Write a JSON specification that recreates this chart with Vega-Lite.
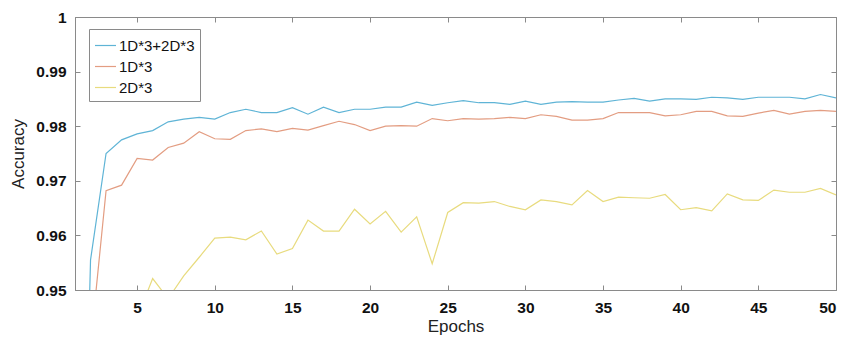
{
  "$schema": "https://vega.github.io/schema/vega-lite/v6.json",
  "width": 761,
  "height": 273,
  "autosize": "none",
  "padding": {"left": 75, "top": 17, "right": 21, "bottom": 49},
  "background": "white",
  "config": {
    "font": "Liberation Sans",
    "view": {"stroke": "#8a8a8a", "strokeWidth": 1},
    "axis": {
      "domainColor": "#8a8a8a",
      "tickColor": "#8a8a8a",
      "tickSize": -5,
      "grid": false,
      "labelColor": "#111",
      "labelFontSize": 15.5,
      "labelFontWeight": "bold",
      "titleFontSize": 17,
      "titleFontWeight": "normal",
      "titleColor": "#222"
    }
  },
  "data": {"values": [
    {"epoch":1,"series":"1D*3+2D*3","acc":0.845},{"epoch":2,"series":"1D*3+2D*3","acc":0.9555},{"epoch":3,"series":"1D*3+2D*3","acc":0.975},{"epoch":4,"series":"1D*3+2D*3","acc":0.9775},{"epoch":5,"series":"1D*3+2D*3","acc":0.9786},{"epoch":6,"series":"1D*3+2D*3","acc":0.9792},{"epoch":7,"series":"1D*3+2D*3","acc":0.9808},{"epoch":8,"series":"1D*3+2D*3","acc":0.9813},{"epoch":9,"series":"1D*3+2D*3","acc":0.9816},{"epoch":10,"series":"1D*3+2D*3","acc":0.9813},
    {"epoch":11,"series":"1D*3+2D*3","acc":0.9825},{"epoch":12,"series":"1D*3+2D*3","acc":0.9831},{"epoch":13,"series":"1D*3+2D*3","acc":0.9825},{"epoch":14,"series":"1D*3+2D*3","acc":0.9825},{"epoch":15,"series":"1D*3+2D*3","acc":0.9834},{"epoch":16,"series":"1D*3+2D*3","acc":0.9822},{"epoch":17,"series":"1D*3+2D*3","acc":0.9835},{"epoch":18,"series":"1D*3+2D*3","acc":0.9825},{"epoch":19,"series":"1D*3+2D*3","acc":0.9831},{"epoch":20,"series":"1D*3+2D*3","acc":0.9831},
    {"epoch":21,"series":"1D*3+2D*3","acc":0.9835},{"epoch":22,"series":"1D*3+2D*3","acc":0.9835},{"epoch":23,"series":"1D*3+2D*3","acc":0.9844},{"epoch":24,"series":"1D*3+2D*3","acc":0.9838},{"epoch":25,"series":"1D*3+2D*3","acc":0.9843},{"epoch":26,"series":"1D*3+2D*3","acc":0.9847},{"epoch":27,"series":"1D*3+2D*3","acc":0.9843},{"epoch":28,"series":"1D*3+2D*3","acc":0.9843},{"epoch":29,"series":"1D*3+2D*3","acc":0.984},{"epoch":30,"series":"1D*3+2D*3","acc":0.9846},
    {"epoch":31,"series":"1D*3+2D*3","acc":0.984},{"epoch":32,"series":"1D*3+2D*3","acc":0.9844},{"epoch":33,"series":"1D*3+2D*3","acc":0.9845},{"epoch":34,"series":"1D*3+2D*3","acc":0.9844},{"epoch":35,"series":"1D*3+2D*3","acc":0.9844},{"epoch":36,"series":"1D*3+2D*3","acc":0.9848},{"epoch":37,"series":"1D*3+2D*3","acc":0.9851},{"epoch":38,"series":"1D*3+2D*3","acc":0.9846},{"epoch":39,"series":"1D*3+2D*3","acc":0.985},{"epoch":40,"series":"1D*3+2D*3","acc":0.985},
    {"epoch":41,"series":"1D*3+2D*3","acc":0.9849},{"epoch":42,"series":"1D*3+2D*3","acc":0.9853},{"epoch":43,"series":"1D*3+2D*3","acc":0.9852},{"epoch":44,"series":"1D*3+2D*3","acc":0.9849},{"epoch":45,"series":"1D*3+2D*3","acc":0.9853},{"epoch":46,"series":"1D*3+2D*3","acc":0.9853},{"epoch":47,"series":"1D*3+2D*3","acc":0.9853},{"epoch":48,"series":"1D*3+2D*3","acc":0.985},{"epoch":49,"series":"1D*3+2D*3","acc":0.9858},{"epoch":50,"series":"1D*3+2D*3","acc":0.9852},

    {"epoch":1,"series":"1D*3","acc":0.85},{"epoch":2,"series":"1D*3","acc":0.9398},{"epoch":3,"series":"1D*3","acc":0.9682},{"epoch":4,"series":"1D*3","acc":0.9692},{"epoch":5,"series":"1D*3","acc":0.9741},{"epoch":6,"series":"1D*3","acc":0.9738},{"epoch":7,"series":"1D*3","acc":0.9761},{"epoch":8,"series":"1D*3","acc":0.9769},{"epoch":9,"series":"1D*3","acc":0.979},{"epoch":10,"series":"1D*3","acc":0.9777},
    {"epoch":11,"series":"1D*3","acc":0.9776},{"epoch":12,"series":"1D*3","acc":0.9792},{"epoch":13,"series":"1D*3","acc":0.9795},{"epoch":14,"series":"1D*3","acc":0.979},{"epoch":15,"series":"1D*3","acc":0.9796},{"epoch":16,"series":"1D*3","acc":0.9793},{"epoch":17,"series":"1D*3","acc":0.9801},{"epoch":18,"series":"1D*3","acc":0.9809},{"epoch":19,"series":"1D*3","acc":0.9803},{"epoch":20,"series":"1D*3","acc":0.9792},
    {"epoch":21,"series":"1D*3","acc":0.98},{"epoch":22,"series":"1D*3","acc":0.9801},{"epoch":23,"series":"1D*3","acc":0.98},{"epoch":24,"series":"1D*3","acc":0.9814},{"epoch":25,"series":"1D*3","acc":0.981},{"epoch":26,"series":"1D*3","acc":0.9814},{"epoch":27,"series":"1D*3","acc":0.9813},{"epoch":28,"series":"1D*3","acc":0.9814},{"epoch":29,"series":"1D*3","acc":0.9816},{"epoch":30,"series":"1D*3","acc":0.9814},
    {"epoch":31,"series":"1D*3","acc":0.9821},{"epoch":32,"series":"1D*3","acc":0.9818},{"epoch":33,"series":"1D*3","acc":0.9811},{"epoch":34,"series":"1D*3","acc":0.9811},{"epoch":35,"series":"1D*3","acc":0.9814},{"epoch":36,"series":"1D*3","acc":0.9825},{"epoch":37,"series":"1D*3","acc":0.9825},{"epoch":38,"series":"1D*3","acc":0.9825},{"epoch":39,"series":"1D*3","acc":0.9819},{"epoch":40,"series":"1D*3","acc":0.9821},
    {"epoch":41,"series":"1D*3","acc":0.9827},{"epoch":42,"series":"1D*3","acc":0.9827},{"epoch":43,"series":"1D*3","acc":0.9819},{"epoch":44,"series":"1D*3","acc":0.9818},{"epoch":45,"series":"1D*3","acc":0.9824},{"epoch":46,"series":"1D*3","acc":0.9829},{"epoch":47,"series":"1D*3","acc":0.9822},{"epoch":48,"series":"1D*3","acc":0.9827},{"epoch":49,"series":"1D*3","acc":0.9829},{"epoch":50,"series":"1D*3","acc":0.9827},

    {"epoch":1,"series":"2D*3","acc":0.86},{"epoch":2,"series":"2D*3","acc":0.89},{"epoch":3,"series":"2D*3","acc":0.92},{"epoch":4,"series":"2D*3","acc":0.935},{"epoch":5,"series":"2D*3","acc":0.9449},{"epoch":6,"series":"2D*3","acc":0.9521},{"epoch":7,"series":"2D*3","acc":0.9484},{"epoch":8,"series":"2D*3","acc":0.9526},{"epoch":9,"series":"2D*3","acc":0.956},{"epoch":10,"series":"2D*3","acc":0.9595},
    {"epoch":11,"series":"2D*3","acc":0.9597},{"epoch":12,"series":"2D*3","acc":0.9592},{"epoch":13,"series":"2D*3","acc":0.9608},{"epoch":14,"series":"2D*3","acc":0.9566},{"epoch":15,"series":"2D*3","acc":0.9576},{"epoch":16,"series":"2D*3","acc":0.9628},{"epoch":17,"series":"2D*3","acc":0.9608},{"epoch":18,"series":"2D*3","acc":0.9608},{"epoch":19,"series":"2D*3","acc":0.9648},{"epoch":20,"series":"2D*3","acc":0.9621},
    {"epoch":21,"series":"2D*3","acc":0.9644},{"epoch":22,"series":"2D*3","acc":0.9606},{"epoch":23,"series":"2D*3","acc":0.9634},{"epoch":24,"series":"2D*3","acc":0.9548},{"epoch":25,"series":"2D*3","acc":0.9642},{"epoch":26,"series":"2D*3","acc":0.966},{"epoch":27,"series":"2D*3","acc":0.9659},{"epoch":28,"series":"2D*3","acc":0.9662},{"epoch":29,"series":"2D*3","acc":0.9653},{"epoch":30,"series":"2D*3","acc":0.9647},
    {"epoch":31,"series":"2D*3","acc":0.9665},{"epoch":32,"series":"2D*3","acc":0.9662},{"epoch":33,"series":"2D*3","acc":0.9656},{"epoch":34,"series":"2D*3","acc":0.9682},{"epoch":35,"series":"2D*3","acc":0.9662},{"epoch":36,"series":"2D*3","acc":0.967},{"epoch":37,"series":"2D*3","acc":0.9669},{"epoch":38,"series":"2D*3","acc":0.9668},{"epoch":39,"series":"2D*3","acc":0.9675},{"epoch":40,"series":"2D*3","acc":0.9647},
    {"epoch":41,"series":"2D*3","acc":0.9651},{"epoch":42,"series":"2D*3","acc":0.9645},{"epoch":43,"series":"2D*3","acc":0.9676},{"epoch":44,"series":"2D*3","acc":0.9665},{"epoch":45,"series":"2D*3","acc":0.9664},{"epoch":46,"series":"2D*3","acc":0.9683},{"epoch":47,"series":"2D*3","acc":0.9679},{"epoch":48,"series":"2D*3","acc":0.9679},{"epoch":49,"series":"2D*3","acc":0.9686},{"epoch":50,"series":"2D*3","acc":0.9674}
  ]},
  "layer": [
    {
      "mark": {"type": "line", "clip": true, "strokeWidth": 1.2},
      "encoding": {
        "x": {"field": "epoch", "type": "quantitative", "scale": {"domain": [1, 50], "nice": false, "zero": false},
              "axis": {"title": "Epochs", "values": [5,10,15,20,25,30,35,40,45,50], "labelPadding": 15, "titlePadding": 3}},
        "y": {"field": "acc", "type": "quantitative", "scale": {"domain": [0.95, 1], "nice": false, "zero": false},
              "axis": {"title": "Accuracy", "values": [0.95,0.96,0.97,0.98,0.99,1], "format": ".2~f", "labelPadding": 14, "titlePadding": 8}},
        "color": {"field": "series", "type": "nominal",
                  "scale": {"domain": ["1D*3+2D*3", "1D*3", "2D*3"], "range": ["#5fb4d6", "#e39d82", "#e8db7e"]},
                  "legend": {"title": null, "orient": "none", "legendX": 14, "legendY": 12, "padding": 5,
                             "strokeColor": "#8a8a8a", "fillColor": "white", "labelFontSize": 15, "labelColor": "#111",
                             "symbolType": "stroke", "symbolSize": 441, "symbolStrokeWidth": 1.2, "labelOffset": 2, "rowPadding": 1, "labelFont": "Liberation Sans"}},
        "detail": {"field": "series"}
      }
    },
    {
      "mark": {"type": "point", "opacity": 0},
      "encoding": {
        "x": {"field": "epoch", "type": "quantitative", "axis": {"orient": "top", "title": null, "labels": false, "values": [5,10,15,20,25,30,35,40,45,50]}},
        "y": {"field": "acc", "type": "quantitative", "axis": {"orient": "right", "title": null, "labels": false, "values": [0.95,0.96,0.97,0.98,0.99,1]}}
      }
    }
  ],
  "resolve": {"axis": {"x": "independent", "y": "independent"}}
}
